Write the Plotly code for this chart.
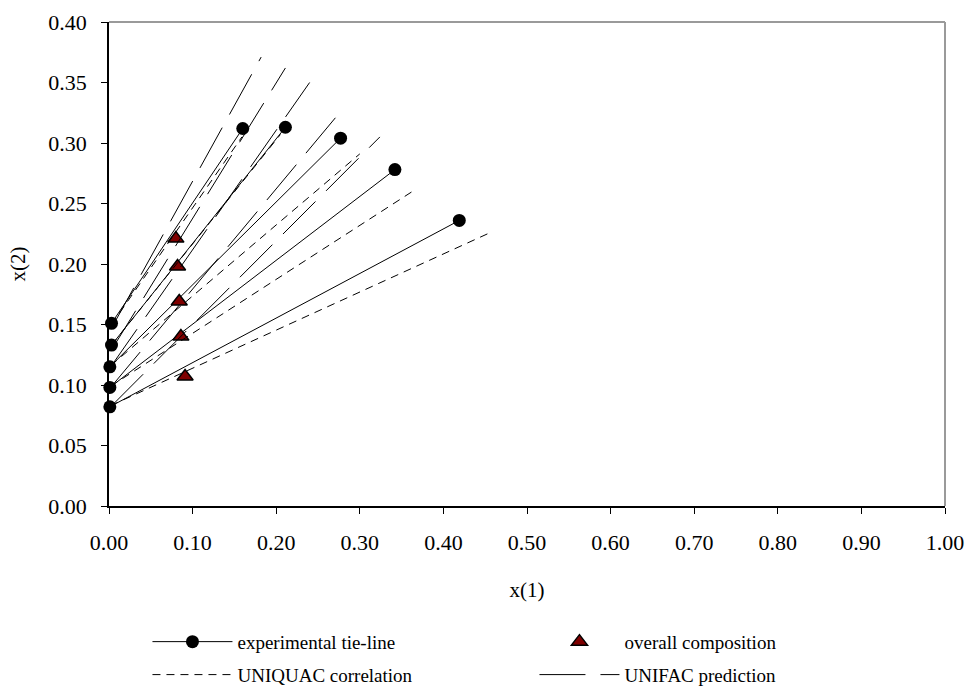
import plotly.graph_objects as go

# Experimental tie-lines: raffinate (x1 ~ 0) and extract end points
exp_raff_x1 = [0.003, 0.003, 0.001, 0.001, 0.001]
exp_raff_x2 = [0.151, 0.133, 0.115, 0.098, 0.082]
exp_ext_x1 = [0.160, 0.211, 0.277, 0.342, 0.419]
exp_ext_x2 = [0.312, 0.313, 0.304, 0.278, 0.236]

# Overall (feed) compositions
feed_x1 = [0.080, 0.082, 0.084, 0.086, 0.091]
feed_x2 = [0.221, 0.198, 0.169, 0.140, 0.107]

# UNIQUAC correlated tie-lines
uq_raff_x1 = [0.003, 0.003, 0.002, 0.002, 0.002]
uq_raff_x2 = [0.150, 0.133, 0.116, 0.099, 0.083]
uq_ext_x1 = [0.159, 0.205, 0.300, 0.363, 0.453]
uq_ext_x2 = [0.305, 0.307, 0.291, 0.260, 0.225]

# UNIFAC predicted tie-lines
uf_raff_x1 = [0.003, 0.003, 0.002, 0.002, 0.002]
uf_raff_x2 = [0.147, 0.129, 0.115, 0.098, 0.082]
uf_ext_x1 = [0.182, 0.211, 0.240, 0.271, 0.324]
uf_ext_x2 = [0.371, 0.362, 0.350, 0.321, 0.305]


def segments(ax, ay, bx, by):
    xs, ys = [], []
    for x0, y0, x1, y1 in zip(ax, ay, bx, by):
        xs += [x0, x1, None]
        ys += [y0, y1, None]
    return xs, ys


SERIF = "Liberation Serif, Times New Roman, serif"

fig = go.Figure()

ex, ey = segments(exp_raff_x1, exp_raff_x2, exp_ext_x1, exp_ext_x2)
fig.add_trace(go.Scatter(
    x=ex, y=ey, mode="lines+markers", name="experimental tie-line",
    line=dict(color="black", width=1),
    marker=dict(symbol="circle", size=13, color="black"),
    cliponaxis=False, legend="legend",
))

fig.add_trace(go.Scatter(
    x=feed_x1, y=feed_x2, mode="markers", name="overall composition",
    marker=dict(symbol="triangle-up", size=14, color="#7f0000",
                line=dict(color="black", width=1.5)),
    cliponaxis=False, legend="legend",
))

qx, qy = segments(uq_raff_x1, uq_raff_x2, uq_ext_x1, uq_ext_x2)
fig.add_trace(go.Scatter(
    x=qx, y=qy, mode="lines", name="UNIQUAC correlation",
    line=dict(color="black", width=1, dash="8px,6px"),
    legend="legend2",
))

fx, fy = segments(uf_raff_x1, uf_raff_x2, uf_ext_x1, uf_ext_x2)
fig.add_trace(go.Scatter(
    x=fx, y=fy, mode="lines", name="UNIFAC prediction",
    line=dict(color="black", width=1, dash="46px,15px"),
    legend="legend2",
))

# gray frame on the top and right of the plotting area
fig.add_shape(type="line", xref="paper", yref="paper", x0=0, y0=1, x1=1, y1=1,
              line=dict(color="#9a9a9a", width=2))
fig.add_shape(type="line", xref="paper", yref="paper", x0=1, y0=0, x1=1, y1=1,
              line=dict(color="#9a9a9a", width=2))

axis_common = dict(
    showline=True, linecolor="black", linewidth=1.5,
    ticks="outside", ticklen=6, tickcolor="black", tickwidth=1,
    ticklabelstandoff=10, automargin=False,
    showgrid=False, zeroline=False,
    tickfont=dict(family=SERIF, size=22, color="black"),
)
fig.update_xaxes(
    range=[0, 1], dtick=0.1, tick0=0, tickformat=".2f",
    title=dict(text="x(1)", font=dict(family=SERIF, size=21, color="black"),
               standoff=28),
    **axis_common,
)
fig.update_yaxes(
    range=[0, 0.4], dtick=0.05, tick0=0, tickformat=".2f",
    title=dict(text="x(2)", font=dict(family=SERIF, size=21, color="black"),
               standoff=17),
    **axis_common,
)

legend_common = dict(
    orientation="h", xanchor="left", yanchor="top",
    itemwidth=80, entrywidth=292, entrywidthmode="pixels",
    font=dict(family=SERIF, size=19, color="black"),
    bgcolor="rgba(0,0,0,0)", traceorder="normal",
)

fig.update_layout(
    width=965, height=688,
    margin=dict(l=108.5, r=19.5, t=21.7, b=181.5, autoexpand=False),
    plot_bgcolor="white", paper_bgcolor="white",
    font=dict(family=SERIF, color="black"),
    legend=dict(x=0.046, y=-0.2413, **legend_common),
    legend2=dict(x=0.046, y=-0.3094, **legend_common),
    showlegend=True,
)

fig.write_html("out.html")
